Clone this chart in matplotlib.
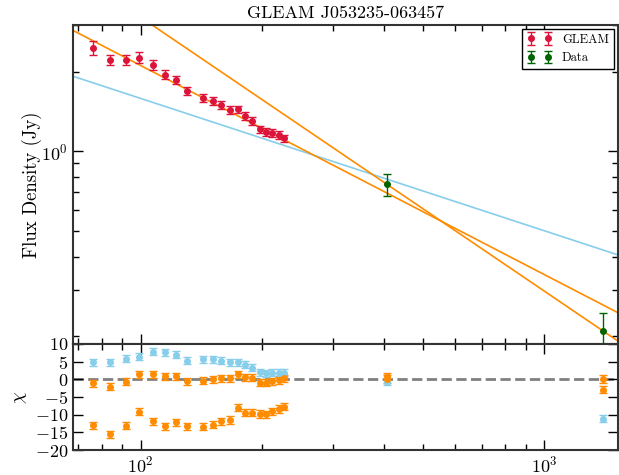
import numpy as np
import matplotlib
matplotlib.use("Agg")
import matplotlib.pyplot as plt
from matplotlib.ticker import NullFormatter, MultipleLocator

plt.rcParams.update({
    "font.family": "serif",
    "font.serif": ["cmr10", "DejaVu Serif"],
    "mathtext.fontset": "cm",
    "axes.formatter.use_mathtext": True,
    "axes.unicode_minus": True,
    "axes.linewidth": 1.5,
    "axes.edgecolor": "#333333",
})

source_name = "GLEAM J053235-063457"

# GLEAM sub-band measurements (MHz, Jy)
gleam_freq = [76, 84, 92, 99, 107, 115, 122, 130, 143, 151,
              158, 166, 174, 181, 189, 197, 204, 212, 220, 227]
gleam_flux = [2.46, 2.22, 2.22, 2.26, 2.12, 1.95, 1.86, 1.69, 1.59, 1.55,
              1.50, 1.43, 1.44, 1.36, 1.30, 1.21, 1.18, 1.17, 1.15, 1.12]
gleam_err = [0.15, 0.10, 0.10, 0.11, 0.09, 0.08, 0.07, 0.06, 0.055, 0.05,
             0.05, 0.048, 0.048, 0.045, 0.043, 0.04, 0.04, 0.04, 0.038, 0.037]

# Additional measurements
data_freq = [408, 1400]
data_flux = [0.75, 0.21]
data_err = [0.07, 0.035]

# Power-law models: S = S150 * (f / 150 MHz) ** alpha
model_s150 = [1.293, 1.531, 2.11]
model_alpha = [-0.50, -0.79, -1.035]
model_color = ["skyblue", "darkorange", "darkorange"]

# Residuals chi = (S - model) / err for each model
chi_gleam = [
    [4.8, 4.8, 5.8, 6.4, 7.8, 7.6, 6.9, 5.3, 5.7, 5.7,
     5.3, 4.8, 4.8, 4.1, 3.3, 2.0, 1.7, 1.9, 1.9, 1.9],
    [-1.1, -2.1, -0.7, 1.4, 1.5, 0.9, 0.9, -0.5, -0.4, 0.0,
     0.3, 0.3, 1.4, 0.6, 0.4, -1.0, -1.0, -0.6, -0.2, 0.3],
    [-13.0, -15.6, -13.1, -9.2, -11.9, -13.3, -12.2, -13.3, -13.4, -12.9,
     -11.8, -11.5, -8.0, -9.5, -9.5, -9.8, -9.9, -9.0, -8.4, -7.8],
]
chi_data = [
    [-0.7, -11.1],
    [0.9, -3.0],
    [0.1, 0.1],
]

fig = plt.figure(figsize=(6.19, 4.75), dpi=100)
ax = fig.add_axes([0.118, 0.2758, 0.880, 0.6716])
axr = fig.add_axes([0.118, 0.0526, 0.880, 0.2232], sharex=ax)

xlim = (68, 1520)
fgrid = np.logspace(np.log10(xlim[0]), np.log10(xlim[1]), 200)
for s150, alpha, c in zip(model_s150, model_alpha, model_color):
    ax.plot(fgrid, s150 * (fgrid / 150.0) ** alpha, color=c, lw=1.2, zorder=2)

ax.errorbar(gleam_freq, gleam_flux, yerr=gleam_err, fmt="o", color="crimson",
            ms=4, mec="crimson", elinewidth=1.0, capsize=3, capthick=1.0,
            label="GLEAM", zorder=3)
ax.errorbar(data_freq, data_flux, yerr=data_err, fmt="o", color="darkgreen",
            ms=4, mec="darkgreen", elinewidth=1.0, capsize=3, capthick=1.0,
            label="Data", zorder=3)

ax.set_xscale("log")
ax.set_yscale("log")
ax.set_xlim(*xlim)
ax.set_ylim(0.187, 3.0)
ax.set_title(source_name, fontsize=13, pad=5)
ax.set_ylabel("Flux Density (Jy)", fontsize=13.5)
ax.yaxis.set_label_coords(-0.057, 0.5)
ax.tick_params(which="both", direction="in", top=True, right=True,
               labelbottom=False, labelsize=13)
ax.tick_params(which="major", length=7, width=1)
ax.tick_params(which="minor", length=4, width=1)
ax.yaxis.set_minor_formatter(NullFormatter())

leg = ax.legend(loc="upper right", numpoints=2, fontsize=9, fancybox=False,
                edgecolor="black", framealpha=1, borderaxespad=0.3,
                handlelength=2.0)
leg.get_frame().set_linewidth(1.0)

# Residual panel
axr.axhline(0, color="gray", ls="--", lw=2, zorder=1)
res_freq_all = gleam_freq + data_freq
for chi_g, chi_d, c in zip(chi_gleam, chi_data, model_color):
    axr.errorbar(res_freq_all, chi_g + chi_d, yerr=1.0, fmt="o", color=c,
                 ms=4, mec=c, elinewidth=1.0, capsize=3, capthick=1.0,
                 zorder=3)

axr.set_xscale("log")
axr.set_xlim(*xlim)
axr.set_ylim(-20, 10)
axr.yaxis.set_major_locator(MultipleLocator(5))
axr.set_ylabel(r"$\chi$", fontsize=13.5, labelpad=4)
axr.tick_params(which="both", direction="in", top=True, right=True, labelsize=13)
axr.tick_params(which="major", length=7, width=1)
axr.tick_params(which="minor", length=4, width=1)

fig.savefig("out.png", dpi=100)
